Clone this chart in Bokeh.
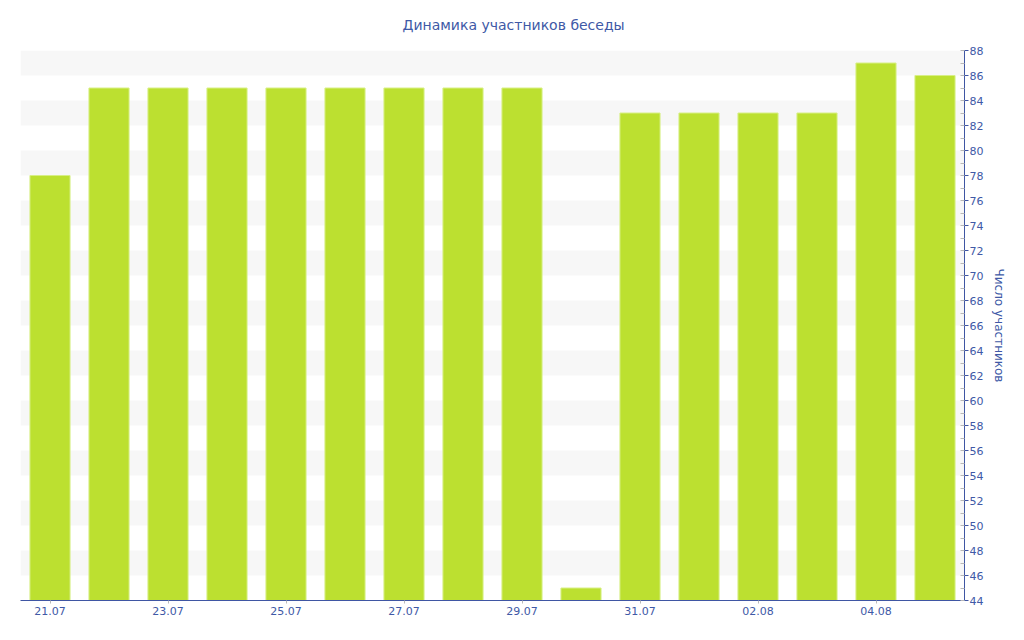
from bokeh.plotting import figure
from bokeh.models import LinearAxis, SingleIntervalTicker, FixedTicker, Range1d, Title
from bokeh.embed import file_html
from bokeh.resources import INLINE

dates = ["21.07", "22.07", "23.07", "24.07", "25.07", "26.07", "27.07", "28.07",
         "29.07", "30.07", "31.07", "01.08", "02.08", "03.08", "04.08", "05.08"]
members = [78, 85, 85, 85, 85, 85, 85, 85, 85, 45, 83, 83, 83, 83, 87, 86]
y_min, y_max = 44, 88
title_text = "Динамика участников беседы"
y_label = "Число участников"

TEXT = "#4059a6"
AXIS = "#3f56a3"
FONT = "DejaVu Sans"

xs = list(range(len(dates)))

p = figure(width=1016, height=632, output_backend="svg", toolbar_location=None,
           x_range=Range1d(-0.5, len(dates) - 0.5), y_range=Range1d(y_min, y_max),
           y_axis_location=None, x_axis_location=None,
           min_border_left=20, min_border_right=52, min_border_top=50, min_border_bottom=32)
p.outline_line_color = None
p.background_fill_color = "white"

p.title = Title(text=title_text, align="left", text_font=FONT, text_font_size="14px",
                text_color=TEXT, text_font_style="normal", vertical_align="top",
                standoff=32, offset=382)

p.vbar(x=xs, top=members, bottom=y_min, width=0.68,
       fill_color="#bce030", line_color="#d8ef86", line_width=1)

yax = LinearAxis(ticker=SingleIntervalTicker(interval=2, num_minor_ticks=2),
                 axis_label=y_label)
yax.axis_line_color = AXIS
yax.major_tick_line_color = AXIS
yax.major_tick_out = 4
yax.major_tick_in = 0
yax.minor_tick_line_color = "#b8b8b8"
yax.minor_tick_in = 4
yax.minor_tick_out = 0
yax.major_label_text_font = FONT
yax.major_label_text_font_size = "11px"
yax.major_label_text_color = TEXT
yax.major_label_standoff = 1
yax.axis_label_text_font = FONT
yax.axis_label_text_font_size = "12px"
yax.axis_label_text_color = TEXT
yax.axis_label_text_font_style = "normal"
yax.axis_label_standoff = 6
p.add_layout(yax, "right")

xax = LinearAxis(ticker=FixedTicker(ticks=xs[::2]),
                 major_label_overrides={i: dates[i] for i in xs})
xax.axis_line_color = AXIS
xax.major_tick_line_color = "#b8b8b8"
xax.major_tick_out = 3
xax.major_tick_in = 0
xax.minor_tick_line_color = None
xax.major_label_text_font = FONT
xax.major_label_text_font_size = "11px"
xax.major_label_text_color = TEXT
xax.major_label_standoff = 3
p.add_layout(xax, "below")

p.xgrid.visible = False
p.ygrid.ticker = yax.ticker
p.ygrid.grid_line_color = None
p.ygrid.band_fill_color = "#f7f7f7"
p.ygrid.band_fill_alpha = 1.0

open("out.html", "w").write(file_html(p, INLINE))
